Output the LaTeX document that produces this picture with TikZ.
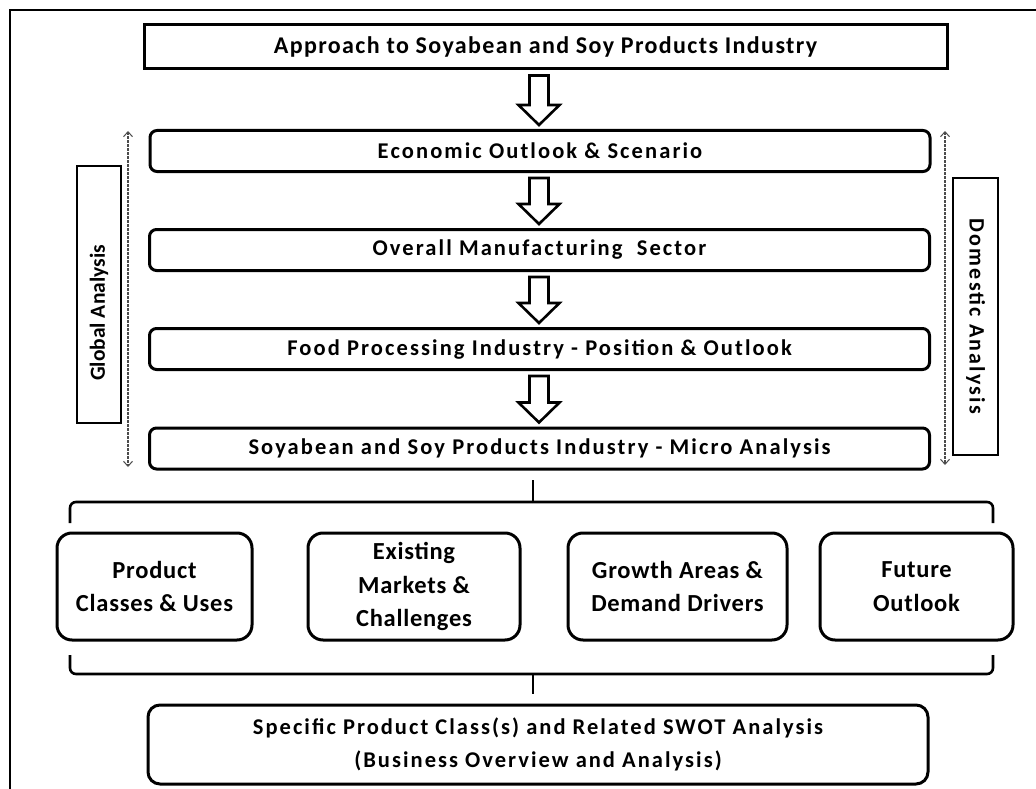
\documentclass[tikz,border=0pt]{standalone}
\usepackage{fontspec}
\setmainfont{Carlito}
\usetikzlibrary{calc,arrows.meta}
\begin{document}
\begin{tikzpicture}[x=1pt,y=-1pt,
  toptext/.style={font=\fontsize{22.5}{27}\selectfont\bfseries\addfontfeature{LetterSpace=9.3}},
  headbox/.style={draw, line width=3pt, minimum width=803, minimum height=44, inner sep=0pt,
    font=\fontsize{24}{28}\selectfont\bfseries\addfontfeature{LetterSpace=5.7}},
  stagebox/.style={draw, line width=3pt, rounded corners=7pt, minimum width=780, minimum height=41, inner sep=0pt, toptext},
  areabox/.style={draw, line width=3pt, rounded corners=15pt, minimum height=107, inner sep=0pt, align=center,
    font=\fontsize{24.5}{33.5}\selectfont\bfseries\addfontfeature{LetterSpace=3}},
  sidebox/.style={draw, line width=1.3pt, inner sep=0pt},
  hollow/.style={draw, line width=2.6pt, line join=miter, fill=white},
  brace/.style={draw, line width=2.6pt, rounded corners=6pt},
  span/.style={draw=black!70, line width=1.1pt, dash pattern=on 2.5pt off 1.5pt, {Straight Barb[length=5pt,width=9pt,line width=1pt]}-{Straight Barb[length=5pt,width=9pt,line width=1pt]}},
  frame/.style={draw, line width=1.5pt}
]
\useasboundingbox (0,0) rectangle (1036,789);
\fill[white] (0,0) rectangle (1036,789);
% outer frame (right and bottom sides lie outside the picture)
\draw[frame] (10,789) -- (10,10) -- (1036,10);

% main column
\node[headbox] (approach) at (545.5,47) {Approach to Soyabean and Soy Products Industry};
\node[stagebox] (econ) at (540,151) {Economic Outlook \& Scenario};
\node[stagebox] (manuf) at (539.5,250) {Overall Manufacturing\ \ Sector};
\node[stagebox] (food) at (539.5,349) {Food Processing Industry - Position \& Outlook};
\node[stagebox] (micro) at (539.5,448.5) {Soyabean and Soy Products Industry - Micro Analysis};

% hollow arrows
\newcommand\hollowarrow[2]{%
  \path[hollow] let \p1=(#1.south), \p2=(#2.north) in
    (529.5pt,\y1-5pt) -- (548.5pt,\y1-5pt) -- (548.5pt,\y2+24pt) -- (559.5pt,\y2+24pt)
    -- (539pt,\y2+4pt) -- (518.5pt,\y2+24pt) -- (529.5pt,\y2+24pt) -- cycle;}
\hollowarrow{approach}{econ}
\hollowarrow{econ}{manuf}
\hollowarrow{manuf}{food}
\hollowarrow{food}{micro}

% side labels
\node[sidebox, minimum width=44, minimum height=257] (global) at (99,294.5) {};
\node[rotate=90, inner sep=0pt, font=\fontsize{21.5}{25}\selectfont\bfseries] (globaltext) at (99,313) {Global Analysis};
\node[sidebox, rotate=-90, minimum width=277, minimum height=45,
  font=\fontsize{22}{26}\selectfont\bfseries\addfontfeature{LetterSpace=10}] (domestic) at (975.5,316.5) {Domestic Analysis};
\coordinate (gtop) at (128,131);
\coordinate (gbot) at (128,467);
\coordinate (dtop) at (945,131);
\coordinate (dbot) at (945,465);
\draw[span] (gtop) -- (gbot);
\draw[span] (dtop) -- (dbot);

% upper brace
\coordinate (ub1) at (70,523);
\coordinate (ub2) at (993,523);
\coordinate (ubtip) at (533,480);
\draw[brace] (ub1) -- (70,502) -- (993,502) -- (ub2);
\draw[line width=2.6pt] (533,503) -- (ubtip);

% four areas
\node[areabox, minimum width=195] (classes) at (154.5,586.5) {Product\\Classes \& Uses};
\node[areabox, minimum width=212] (markets) at (414,586.5) {Existing\\Markets \&\\Challenges};
\node[areabox, minimum width=219] (growth) at (677.5,586.5) {Growth Areas \&\\Demand Drivers};
\node[areabox, minimum width=193] (future) at (916.5,586.5) {Future\\Outlook};

% lower brace
\coordinate (lb1) at (70,655);
\coordinate (lb2) at (993,655);
\coordinate (lbtip) at (533,694);
\draw[brace] (lb1) -- (70,674) -- (993,674) -- (lb2);
\draw[line width=2.6pt] (533,673) -- (lbtip);

% final box
\node[draw, line width=3pt, rounded corners=12pt, minimum width=780, minimum height=79, inner sep=0pt, align=center,
  font=\fontsize{22.5}{33}\selectfont\bfseries\addfontfeature{LetterSpace=9}] (swot) at (538,744.5)
  {Specific Product Class(s) and Related SWOT Analysis\\(Business Overview and Analysis)};
\end{tikzpicture}
\end{document}
